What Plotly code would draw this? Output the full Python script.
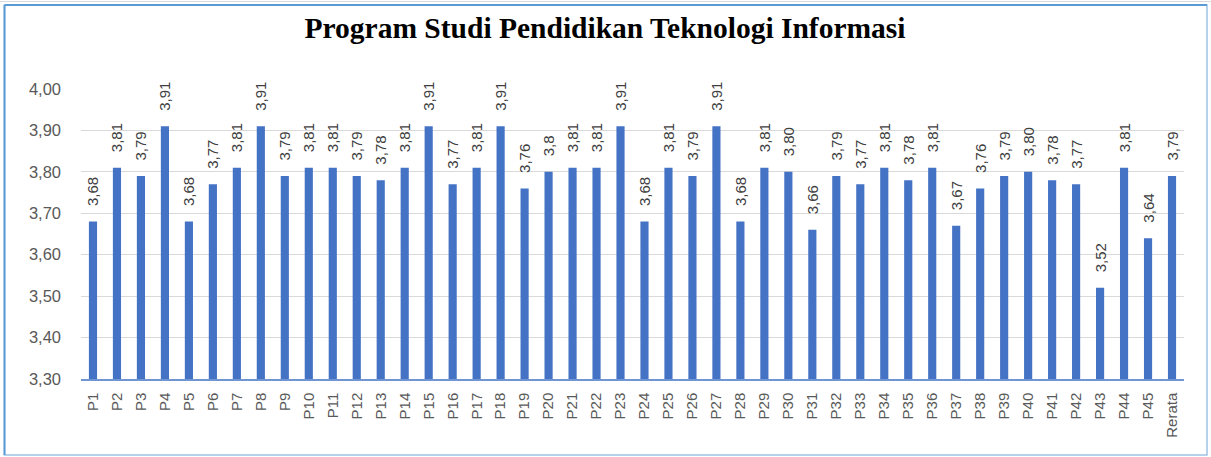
import plotly.graph_objects as go

categories = [f"P{i}" for i in range(1, 46)] + ["Rerata"]
values = [3.68, 3.81, 3.79, 3.91, 3.68, 3.77, 3.81, 3.91, 3.79, 3.81,
          3.81, 3.79, 3.78, 3.81, 3.91, 3.77, 3.81, 3.91, 3.76, 3.80,
          3.81, 3.81, 3.91, 3.68, 3.81, 3.79, 3.91, 3.68, 3.81, 3.80,
          3.66, 3.79, 3.77, 3.81, 3.78, 3.81, 3.67, 3.76, 3.79, 3.80,
          3.78, 3.77, 3.52, 3.81, 3.64, 3.79]
labels = ["3,68", "3,81", "3,79", "3,91", "3,68", "3,77", "3,81", "3,91", "3,79", "3,81",
          "3,81", "3,79", "3,78", "3,81", "3,91", "3,77", "3,81", "3,91", "3,76", "3,8",
          "3,81", "3,81", "3,91", "3,68", "3,81", "3,79", "3,91", "3,68", "3,81", "3,80",
          "3,66", "3,79", "3,77", "3,81", "3,78", "3,81", "3,67", "3,76", "3,79", "3,80",
          "3,78", "3,77", "3,52", "3,81", "3,64", "3,79"]
y_ticks = [3.30, 3.40, 3.50, 3.60, 3.70, 3.80, 3.90, 4.00]

W, H = 1211, 457
L, R, T, B = 81, 27, 89, 78
pw, ph = W - L - R, H - T - B

def px_x(p):
    return (p - L) / pw

def px_y(p):
    return (H - B - p) / ph

pad = "\u00a0\u00a0\u00a0"
fig = go.Figure(go.Bar(
    x=categories, y=values, text=[pad + s for s in labels],
    textposition="outside", textangle=-90, constraintext="none",
    textfont=dict(family="Liberation Sans, Arial", size=15, color="#404040"),
    marker=dict(color="#4472C4", line=dict(width=0)),
    width=0.34, cliponaxis=False,
))

# faint spreadsheet grid above the chart frame
fig.add_shape(type="line", xref="paper", yref="paper",
              x0=px_x(0), x1=px_x(1211), y0=px_y(1.5), y1=px_y(1.5),
              line=dict(color="#D9D9D9", width=1), layer="below")
fig.add_shape(type="rect", xref="paper", yref="paper",
              x0=px_x(4.5), x1=px_x(1207), y0=px_y(455), y1=px_y(5),
              line=dict(color="#9DC3E6", width=1.5), layer="below")
fig.add_shape(type="line", xref="paper", yref="paper",
              x0=px_x(4.5), x1=px_x(4.5), y0=px_y(455), y1=px_y(5),
              line=dict(color="#5B9BD5", width=2), layer="below")
fig.add_shape(type="line", xref="paper", yref="paper",
              x0=px_x(4.5), x1=px_x(1207), y0=px_y(5), y1=px_y(5),
              line=dict(color="#5B9BD5", width=2), layer="below")

fig.update_layout(
    width=W, height=H,
    margin=dict(l=L, r=R, t=T, b=B),
    paper_bgcolor="white", plot_bgcolor="white",
    separators=",.",
    showlegend=False,
    title=dict(text="<b>Program Studi Pendidikan Teknologi Informasi</b>",
               x=px_x(605), xref="paper", xanchor="center",
               y=1 - 28 / H, yanchor="middle",
               font=dict(family="Liberation Serif, Times New Roman", size=29.5, color="#000000")),
    xaxis=dict(type="category", tickangle=-90, showgrid=False,
               tickfont=dict(family="Liberation Sans, Arial", size=15, color="#595959"),
               showline=True, linecolor="#6F95D3", linewidth=1.5, ticks="",
               ticklabelstandoff=6),
    yaxis=dict(range=[3.30, 4.00], tickvals=y_ticks, tickformat=".2f",
               showgrid=True, gridcolor="#D9D9D9", gridwidth=1,
               zeroline=False, showline=False, ticks="",
               ticklabelstandoff=19,
               tickfont=dict(family="Liberation Sans, Arial", size=16.5, color="#595959")),
)

fig.write_html("out.html",
               config={"displayModeBar": False},
               post_script="document.body.style.margin='0';document.body.style.overflow='hidden';")
